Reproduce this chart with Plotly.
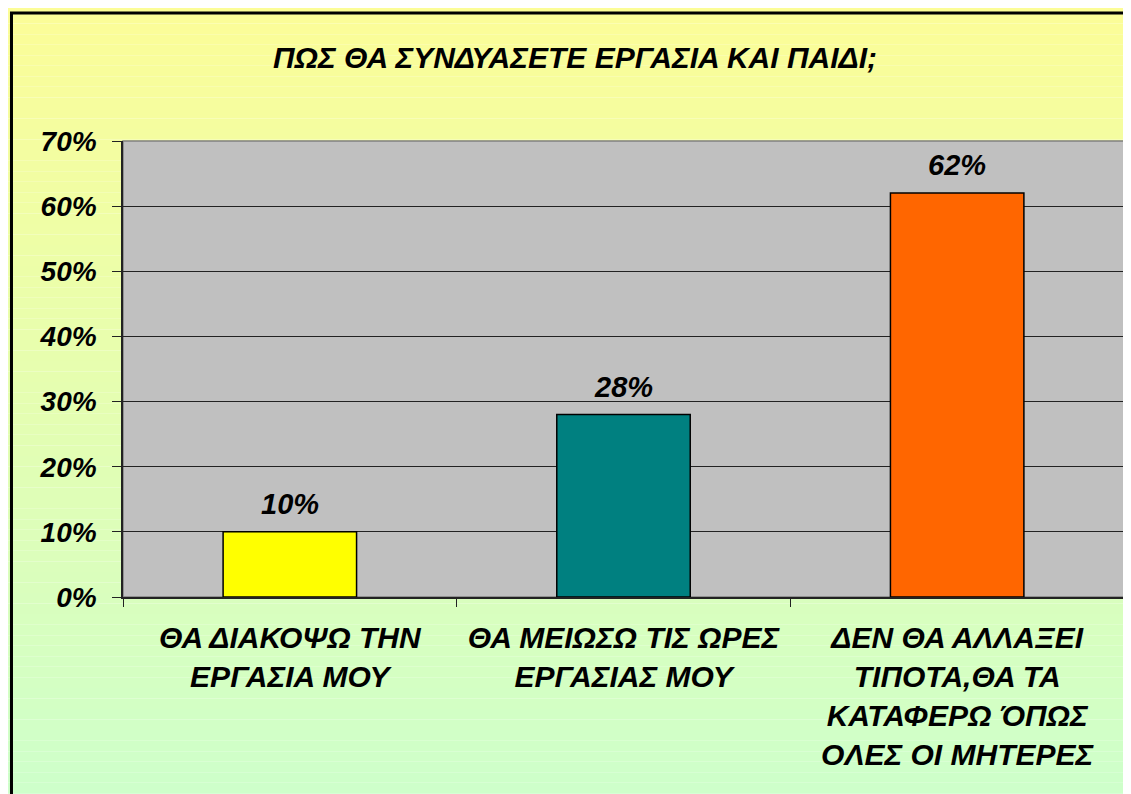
import plotly.graph_objects as go

title = "ΠΩΣ ΘΑ ΣΥΝΔΥΑΣΕΤΕ ΕΡΓΑΣΙΑ ΚΑΙ ΠΑΙΔΙ;"
categories = [
    "ΘΑ ΔΙΑΚΟΨΩ ΤΗΝ<br>ΕΡΓΑΣΙΑ ΜΟΥ",
    "ΘΑ ΜΕΙΩΣΩ ΤΙΣ ΩΡΕΣ<br>ΕΡΓΑΣΙΑΣ ΜΟΥ",
    "ΔΕΝ ΘΑ ΑΛΛΑΞΕΙ<br>ΤΙΠΟΤΑ,ΘΑ ΤΑ<br>ΚΑΤΑΦΕΡΩ ΌΠΩΣ<br>ΟΛΕΣ ΟΙ ΜΗΤΕΡΕΣ",
]
values = [0.10, 0.28, 0.62]
bar_colors = ["#FFFF00", "#008080", "#FF6600"]

W, H = 1131, 794
font = dict(family="Arial, Liberation Sans, sans-serif", size=28, color="black",
            weight="bold", style="italic")


def mix(c1, c2, t):
    return "rgb(%d,%d,%d)" % tuple(round(a + (b - a) * t) for a, b in zip(c1, c2))


# vertical gradient background: light yellow -> light green
shapes = []
top_c, bot_c = (253, 253, 150), (204, 255, 204)
n = 80
y_hi, y_lo = 1.35, -0.5
for i in range(n):
    shapes.append(dict(
        type="rect", xref="paper", yref="paper", layer="below",
        x0=-0.2, x1=1.2,
        y0=y_hi - (y_hi - y_lo) * (i + 1) / n, y1=y_hi - (y_hi - y_lo) * i / n,
        fillcolor=mix(top_c, bot_c, i / (n - 1)), line=dict(width=0),
    ))
# grey plot area
shapes.append(dict(
    type="rect", xref="x domain", yref="y domain", layer="below",
    x0=0, x1=1, y0=0, y1=1, fillcolor="#C0C0C0", line=dict(color="#808080", width=1.5),
))
# outer chart border
shapes.append(dict(
    type="rect", xref="paper", yref="paper", layer="above",
    x0=-0.1114, x1=1.2, y0=-0.6, y1=1.2807,
    line=dict(color="black", width=3), fillcolor="rgba(0,0,0,0)",
))

fig = go.Figure()
fig.add_trace(go.Bar(
    x=categories, y=values,
    marker=dict(color=bar_colors, line=dict(color="black", width=1.5)),
))
for c, v in zip(categories, values):
    fig.add_annotation(x=c, y=v, text=f"{v:.0%}", showarrow=False,
                       yanchor="bottom", yshift=10, font=dict(font, size=29))

fig.update_layout(
    width=W, height=H,
    margin=dict(l=115, r=15, t=133, b=205),
    paper_bgcolor="white", plot_bgcolor="rgba(0,0,0,0)",
    title=dict(text=title, x=567 / W, xanchor="center", y=1 - 49 / H, yanchor="middle",
               font=dict(font, size=30)),
    shapes=shapes, showlegend=False, bargap=0.6,
    font=font,
)
fig.update_yaxes(
    range=[0, 0.7], dtick=0.1, tickformat=".0%", showgrid=True, gridcolor="#222222",
    gridwidth=1, ticks="outside", ticklen=9, tickcolor="#222222", showline=True,
    linecolor="#222222", linewidth=1.5, zeroline=False, tickfont=dict(font, size=28),
    ticklabelstandoff=10,
)
fig.update_xaxes(
    showline=True, linecolor="#222222", linewidth=1.5, ticks="outside", ticklen=8,
    tickcolor="#222222", tickson="boundaries", tickangle=0, tickfont=dict(font, size=30),
    ticklabelstandoff=13,
)
fig.write_html("out.html")
